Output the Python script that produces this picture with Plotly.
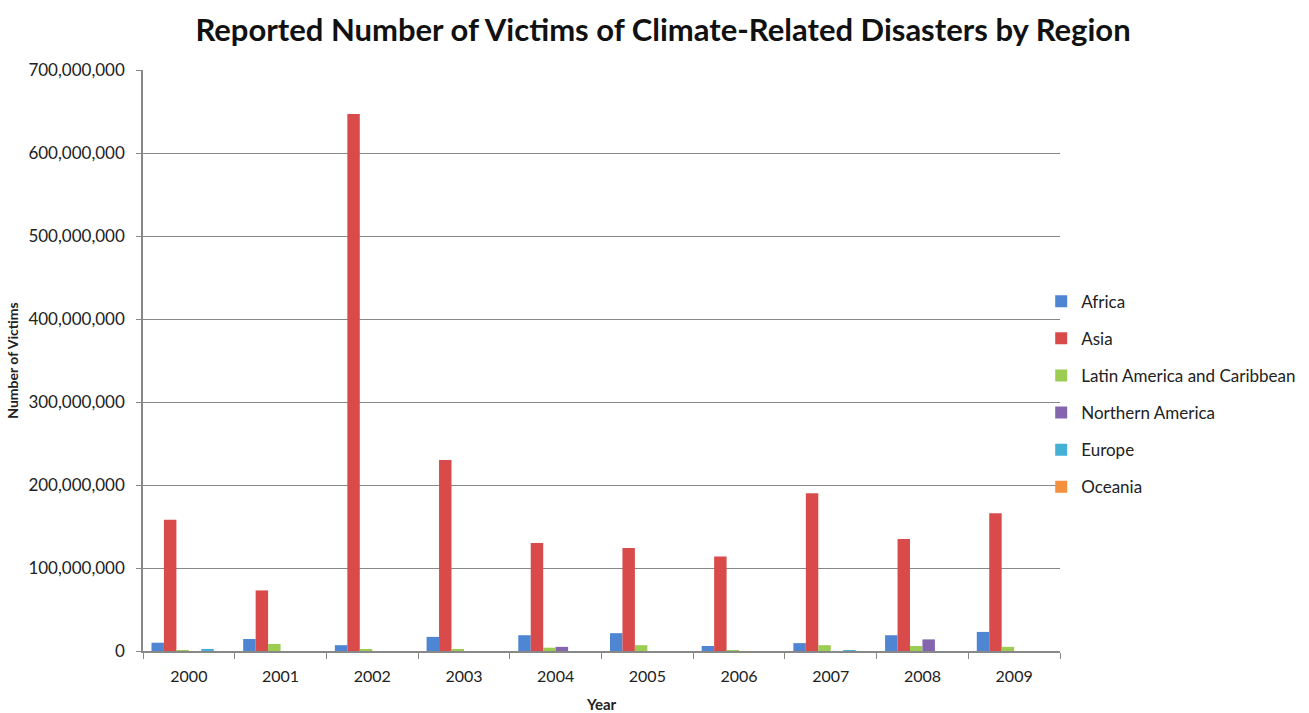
import plotly.graph_objects as go

years = ["2000", "2001", "2002", "2003", "2004", "2005", "2006", "2007", "2008", "2009"]
africa = [10e6, 14.5e6, 7e6, 17e6, 19e6, 21.5e6, 6e6, 9.5e6, 19e6, 23e6]
asia = [158e6, 73e6, 647e6, 230e6, 130e6, 124e6, 114e6, 190e6, 135e6, 166e6]
latin = [0.3e6, 8.5e6, 1.5e6, 2e6, 4e6, 7e6, 0.3e6, 7e6, 6e6, 5e6]
n_america = [0, 0, 0, 0, 5e6, 0, 0, 0, 14e6, 0]
europe = [2.5e6, 0, 0, 0, 0, 0, 0, 1e6, 0, 0]
oceania = [0, 0, 0, 0, 0, 0, 0, 0, 0, 0]

series = [
    ("Africa", africa, "#4f86d4"),
    ("Asia", asia, "#d94b4a"),
    ("Latin America and Caribbean", latin, "#9ccc52"),
    ("Northern America", n_america, "#8466b0"),
    ("Europe", europe, "#46afd6"),
    ("Oceania", oceania, "#f5913e"),
]

fig = go.Figure()
for i, (name, vals, col) in enumerate(series):
    fig.add_trace(go.Bar(x=years, y=vals, name=name, marker_color=col,
                         marker_line_width=0, legendgroup=str(i)))

FONT = "Lato"
fig.update_layout(
    width=1309, height=713,
    paper_bgcolor="white", plot_bgcolor="white",
    barmode="group", bargap=0.185, bargroupgap=0,
    margin=dict(l=143, r=249, t=70, b=62, autoexpand=False),
    font=dict(family=FONT, color="#222", size=16),
    title=dict(text="<b>Reported Number of Victims of Climate-Related Disasters by Region</b>",
               x=0.5065, xanchor="center", y=0.958, yanchor="middle",
               font=dict(size=31, family=FONT, color="#111")),
    legend=dict(x=0.9795, xanchor="left", y=0.442, yanchor="middle",
                font=dict(size=17, family=FONT), tracegroupgap=12,
                itemwidth=30, bgcolor="rgba(0,0,0,0)"),
    showlegend=True,
)
fig.update_xaxes(
    type="category", showline=True, linecolor="#888", linewidth=1.5,
    ticks="outside", tickson="boundaries", ticklen=6, tickcolor="#888",
    tickfont=dict(size=16, family=FONT), ticklabelstandoff=10,
    title=dict(text="<b>Year</b>", font=dict(size=15, family=FONT), standoff=17),
)
fig.update_yaxes(
    range=[0, 700e6], tickvals=[i * 100e6 for i in range(8)], tickformat=",d",
    showgrid=True, gridcolor="#888", gridwidth=1.2,
    showline=True, linecolor="#888", linewidth=1.5,
    ticks="outside", ticklen=5, tickcolor="#888",
    tickfont=dict(size=17, family=FONT), ticklabelstandoff=8,
    zeroline=False,
    title=dict(text="<b>Number of Victims</b>", font=dict(size=14, family=FONT), standoff=6),
)

fig.write_html("out.html")
